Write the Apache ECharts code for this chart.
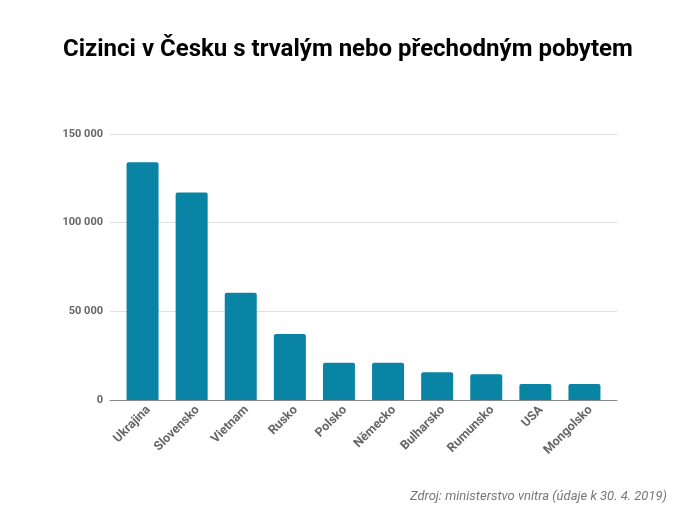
<!DOCTYPE html>
<html><head><meta charset="utf-8">
<script src="https://cdn.jsdelivr.net/npm/echarts@6/dist/echarts.min.js"></script>
<style>html,body{margin:0;padding:0;background:#fff}#c{width:682px;height:512px}</style>
</head><body><div id="c"></div>
<script>
const categories = ['Ukrajina','Slovensko','Vietnam','Rusko','Polsko','Německo','Bulharsko','Rumunsko','USA','Mongolsko'];
const values = [134000, 117000, 60500, 37200, 21000, 21000, 15600, 14500, 9000, 9000];
const yTicks = [0, 50000, 100000, 150000];
const titleText = 'Cizinci v Česku s trvalým nebo přechodným pobytem';
const sourceText = 'Zdroj: ministerstvo vnitra (údaje k 30. 4. 2019)';

const fmt = v => String(v).replace(/\B(?=(\d{3})+(?!\d))/g, ' ');
const chart = echarts.init(document.getElementById('c'), null, {renderer:'canvas'});
chart.setOption({
  animation:false,
  title:[{text:titleText,left:58,top:33,textStyle:{fontFamily:'Roboto',fontWeight:'bold',fontSize:24,color:'#000'}},
         {text:sourceText,right:10,top:485,textStyle:{fontFamily:'Roboto',fontStyle:'italic',fontWeight:'normal',fontSize:13,color:'#777'}}],
  grid:[{left:110,right:65,top:134,bottom:112},{left:118,right:73,top:134,bottom:112},{left:124,right:67,top:134,bottom:112}],
  xAxis:[
    {type:'category',gridIndex:0,data:[''],axisLine:{lineStyle:{color:'#888',width:1}},axisTick:{show:false},axisLabel:{show:false}},
    {type:'category',gridIndex:1,data:categories,axisLine:{show:false},axisTick:{show:false},axisLabel:{show:false}},
    {type:'category',gridIndex:2,data:categories,axisLine:{show:false},axisTick:{show:false},
     axisLabel:{interval:0,rotate:45,margin:8,fontFamily:'Roboto',fontWeight:'bold',fontSize:12.5,color:'#666'}}
  ],
  yAxis:[
    {type:'value',gridIndex:0,min:0,max:150000,interval:50000,axisLine:{show:false},axisTick:{show:false},
     splitLine:{lineStyle:{color:'#e0e0e0'}},
     axisLabel:{margin:7,fontFamily:'Roboto',fontWeight:'bold',fontSize:11,color:'#666',formatter:v=>yTicks.includes(v)?fmt(v):''}},
    {type:'value',gridIndex:1,min:0,max:150000,interval:50000,show:false},
    {type:'value',gridIndex:2,min:0,max:150000,interval:50000,show:false}
  ],
  series:[{type:'bar',xAxisIndex:1,yAxisIndex:1,data:values,barWidth:32,
    itemStyle:{color:'#0a84a5',borderRadius:[2,2,0,0]}}]
});
</script></body></html>
